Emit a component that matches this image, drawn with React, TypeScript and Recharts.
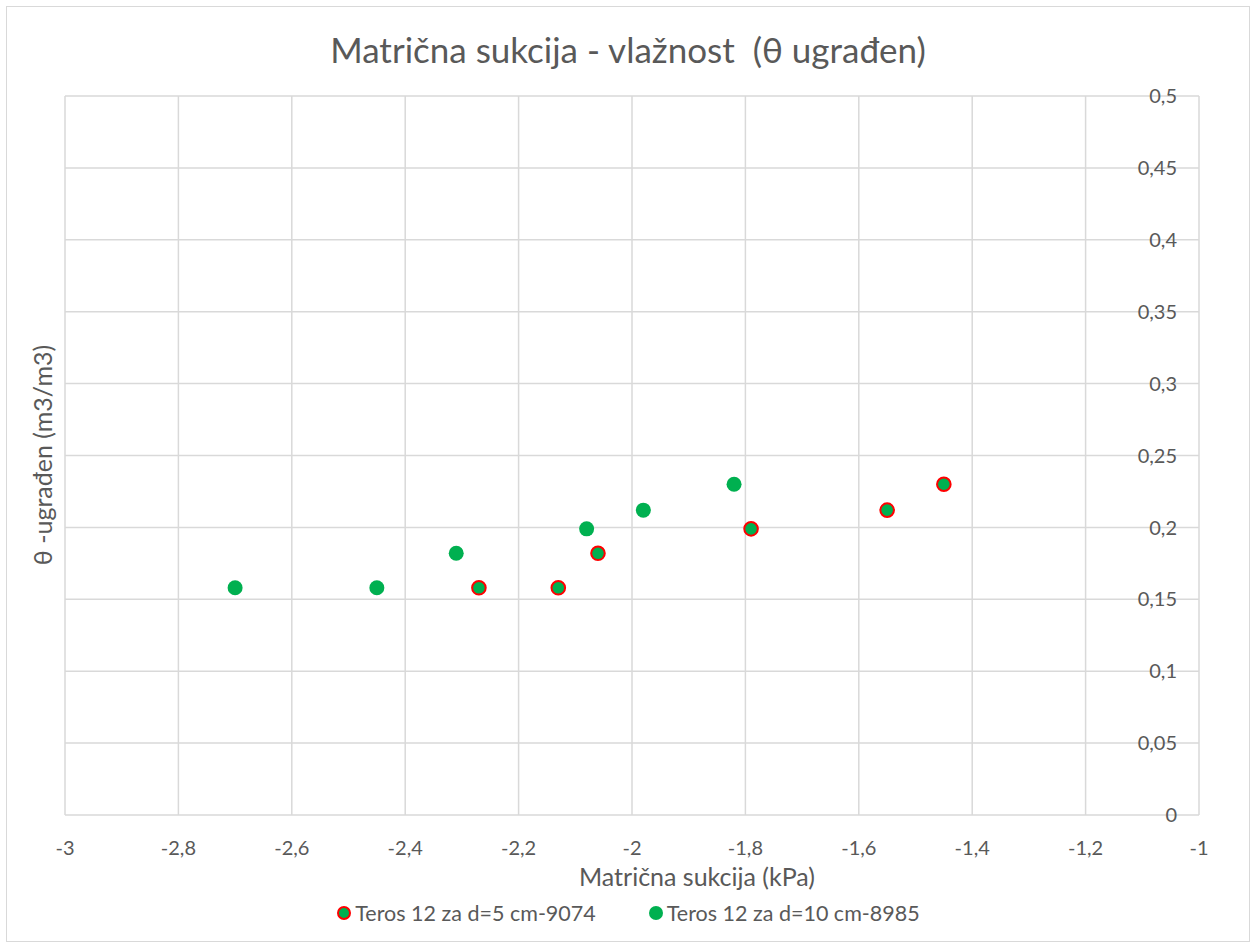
import React from "react"
import { ScatterChart, Scatter, XAxis, YAxis, CartesianGrid } from "recharts"

// Series 1: Teros 12 za d=5 cm-9074
const suction5 = [-2.27, -2.13, -2.06, -1.79, -1.55, -1.45]
const theta5 = [0.158, 0.158, 0.182, 0.199, 0.212, 0.23]

// Series 2: Teros 12 za d=10 cm-8985
const suction10 = [-2.7, -2.45, -2.31, -2.08, -1.98, -1.82]
const theta10 = [0.158, 0.158, 0.182, 0.199, 0.212, 0.23]

const xTicks = [-3, -2.8, -2.6, -2.4, -2.2, -2, -1.8, -1.6, -1.4, -1.2, -1]
const yTicks = [0, 0.05, 0.1, 0.15, 0.2, 0.25, 0.3, 0.35, 0.4, 0.45, 0.5]

const seriesNames = ["Teros 12 za d=5 cm-9074", "Teros 12 za d=10 cm-8985"]

const data5 = suction5.map((x, i) => ({ x, y: theta5[i] }))
const data10 = suction10.map((x, i) => ({ x, y: theta10[i] }))

const FONT = "Lato, 'Open Sans', sans-serif"
const TEXT = "#595959"
const GREEN = "#00b050"
const RED = "#ff0000"

const fmt = (v: number) => String(v).replace(".", ",")

const Dot = (stroke: string) => (props: any) => {
  const { cx, cy } = props
  return <circle cx={cx} cy={cy} r={stroke === "none" ? 7.5 : 6.8} fill={GREEN} stroke={stroke} strokeWidth={stroke === "none" ? 0 : 2} />
}

export default function App() {
  return (
    <div
      style={{
        position: "absolute",
        left: 0,
        top: 0,
        width: 1256,
        height: 949,
        background: "#fff",
        fontFamily: FONT,
        color: TEXT,
      }}
    >
      <div
        style={{
          position: "absolute",
          left: 6,
          top: 6,
          width: 1244,
          height: 936,
          border: "1.5px solid #d9d9d9",
          boxSizing: "border-box",
        }}
      />
      <ScatterChart
        width={1256}
        height={949}
        margin={{ top: 96, right: 57, left: 65, bottom: 104 }}
        style={{ position: "absolute", left: 0, top: 0 }}
      >
        <CartesianGrid stroke="#d9d9d9" strokeWidth={1.5} />
        <XAxis
          type="number"
          dataKey="x"
          domain={[-3, -1]}
          ticks={xTicks}
          tickFormatter={fmt}
          axisLine={false}
          tickLine={false}
          tickMargin={20}
          height={30}
          tick={{ fill: TEXT, fontSize: 20, fontFamily: FONT }}
        />
        <YAxis
          type="number"
          dataKey="y"
          orientation="right"
          mirror
          domain={[0, 0.5]}
          ticks={yTicks}
          tickFormatter={fmt}
          axisLine={false}
          tickLine={false}
          tickMargin={16}
          tick={{ fill: TEXT, fontSize: 20, fontFamily: FONT }}
        />
        <Scatter name={seriesNames[0]} data={data5} shape={Dot(RED)} isAnimationActive={false} />
        <Scatter name={seriesNames[1]} data={data10} shape={Dot("none")} isAnimationActive={false} />
      </ScatterChart>
      <div
        style={{
          position: "absolute",
          left: 0,
          width: 1256,
          top: 27,
          textAlign: "center",
          fontSize: 35,
          lineHeight: "44px",
        }}
      >
        Matrična sukcija - vlažnost&nbsp;&nbsp;(θ ugrađen)
      </div>
      <div
        style={{
          position: "absolute",
          left: 697 - 300,
          width: 600,
          top: 861,
          textAlign: "center",
          fontSize: 25,
          lineHeight: "30px",
        }}
      >
        Matrična sukcija (kPa)
      </div>
      <div
        style={{
          position: "absolute",
          left: 42 - 200,
          top: 455 - 15,
          width: 400,
          textAlign: "center",
          fontSize: 25,
          lineHeight: "30px",
          transform: "rotate(-90deg)",
        }}
      >
        θ -ugrađen (m3/m3)
      </div>
      <div
        style={{
          position: "absolute",
          left: 0,
          width: 1256,
          top: 899,
          display: "flex",
          justifyContent: "center",
          gap: 52,
          fontSize: 21.5,
          lineHeight: "28px",
        }}
      >
        {seriesNames.map((n, i) => (
          <div key={n} style={{ display: "flex", alignItems: "center", gap: 3 }}>
            <svg width={16} height={16}>
              <circle cx={8} cy={8} r={i === 0 ? 6 : 7} fill={GREEN} stroke={i === 0 ? RED : "none"} strokeWidth={2} />
            </svg>
            <span>{n}</span>
          </div>
        ))}
      </div>
    </div>
  )
}
